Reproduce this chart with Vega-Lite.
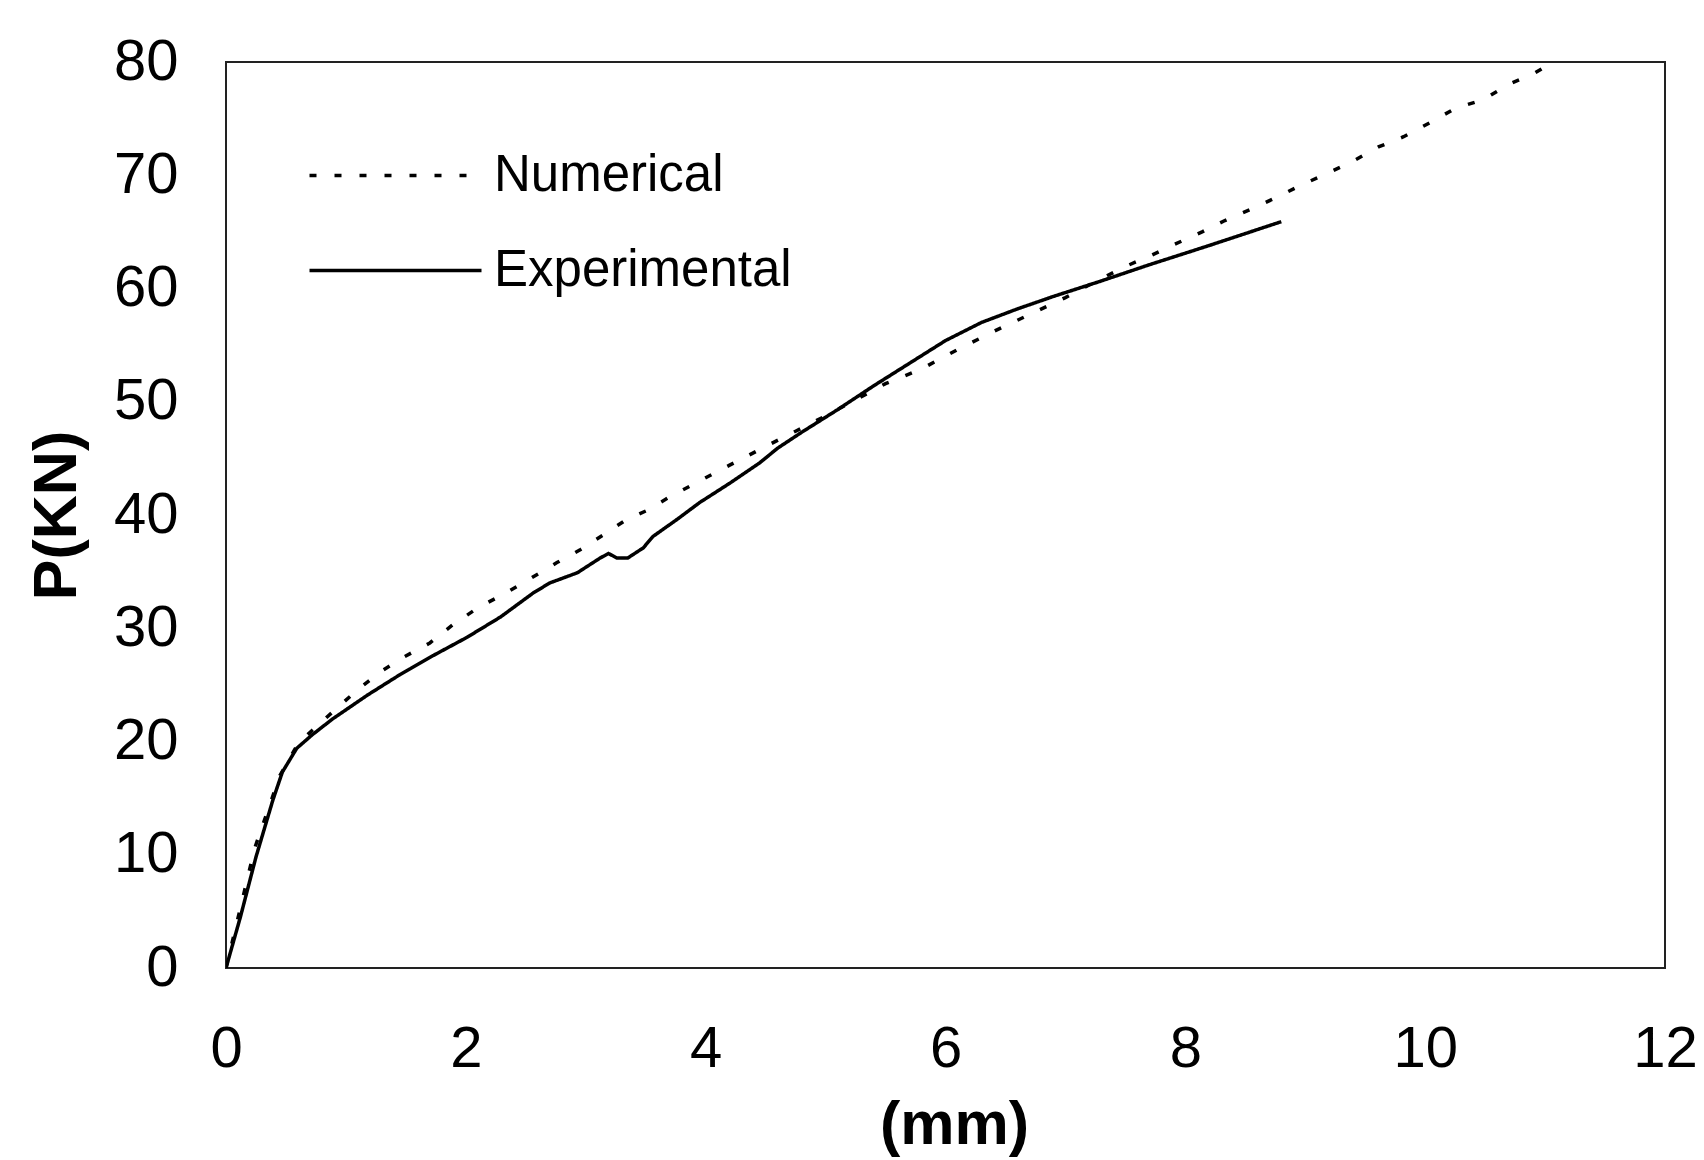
{
  "$schema": "https://vega.github.io/schema/vega-lite/v6.json",
  "width": 1439,
  "height": 906,
  "autosize": {"type": "none"},
  "padding": {"left": 226, "top": 62, "right": 39, "bottom": 192},
  "background": "white",
  "config": {
    "view": {"stroke": "#222", "strokeWidth": 2},
    "axis": {"grid": false, "ticks": false, "domain": false}
  },
  "data": {
    "values": [
      {"series": "Numerical", "d": 0, "p": 0},
      {"series": "Numerical", "d": 0.24, "p": 10.6},
      {"series": "Numerical", "d": 0.45, "p": 17.0},
      {"series": "Numerical", "d": 0.6, "p": 19.8},
      {"series": "Numerical", "d": 0.72, "p": 21.0},
      {"series": "Numerical", "d": 0.91, "p": 22.8},
      {"series": "Numerical", "d": 1.09, "p": 24.5},
      {"series": "Numerical", "d": 1.28, "p": 26.1},
      {"series": "Numerical", "d": 1.49, "p": 27.5},
      {"series": "Numerical", "d": 1.7, "p": 28.7},
      {"series": "Numerical", "d": 1.89, "p": 30.3},
      {"series": "Numerical", "d": 2.1, "p": 31.8},
      {"series": "Numerical", "d": 2.33, "p": 33.1},
      {"series": "Numerical", "d": 2.54, "p": 34.4},
      {"series": "Numerical", "d": 2.76, "p": 35.8},
      {"series": "Numerical", "d": 2.95, "p": 36.9},
      {"series": "Numerical", "d": 3.14, "p": 38.2},
      {"series": "Numerical", "d": 3.34, "p": 39.6},
      {"series": "Numerical", "d": 3.51, "p": 40.4},
      {"series": "Numerical", "d": 3.7, "p": 41.6},
      {"series": "Numerical", "d": 3.93, "p": 42.9},
      {"series": "Numerical", "d": 4.2, "p": 44.4},
      {"series": "Numerical", "d": 4.49, "p": 46.0},
      {"series": "Numerical", "d": 4.75, "p": 47.4},
      {"series": "Numerical", "d": 4.99, "p": 48.7},
      {"series": "Numerical", "d": 5.22, "p": 50.0},
      {"series": "Numerical", "d": 5.5, "p": 51.6},
      {"series": "Numerical", "d": 5.8, "p": 52.9},
      {"series": "Numerical", "d": 6.1, "p": 54.6},
      {"series": "Numerical", "d": 6.4, "p": 56.2},
      {"series": "Numerical", "d": 6.7, "p": 57.7},
      {"series": "Numerical", "d": 7.0, "p": 59.2},
      {"series": "Numerical", "d": 7.25, "p": 60.6},
      {"series": "Numerical", "d": 7.49, "p": 61.9},
      {"series": "Numerical", "d": 7.71, "p": 62.9},
      {"series": "Numerical", "d": 7.91, "p": 63.9},
      {"series": "Numerical", "d": 8.14, "p": 65.0},
      {"series": "Numerical", "d": 8.33, "p": 66.0},
      {"series": "Numerical", "d": 8.57, "p": 67.1},
      {"series": "Numerical", "d": 8.77, "p": 68.1},
      {"series": "Numerical", "d": 8.96, "p": 69.1},
      {"series": "Numerical", "d": 9.19, "p": 70.2},
      {"series": "Numerical", "d": 9.39, "p": 71.2},
      {"series": "Numerical", "d": 9.61, "p": 72.5},
      {"series": "Numerical", "d": 9.82, "p": 73.4},
      {"series": "Numerical", "d": 10.05, "p": 74.7},
      {"series": "Numerical", "d": 10.25, "p": 75.9},
      {"series": "Numerical", "d": 10.49, "p": 76.7},
      {"series": "Numerical", "d": 10.69, "p": 78.0},
      {"series": "Numerical", "d": 10.91, "p": 79.0},
      {"series": "Numerical", "d": 11.07, "p": 80.0},
      {"series": "Experimental", "d": 0, "p": 0},
      {"series": "Experimental", "d": 0.12, "p": 4.5},
      {"series": "Experimental", "d": 0.25, "p": 9.8},
      {"series": "Experimental", "d": 0.39, "p": 14.8},
      {"series": "Experimental", "d": 0.47, "p": 17.3},
      {"series": "Experimental", "d": 0.59, "p": 19.4},
      {"series": "Experimental", "d": 0.72, "p": 20.6},
      {"series": "Experimental", "d": 0.89, "p": 22.0},
      {"series": "Experimental", "d": 1.18, "p": 24.1},
      {"series": "Experimental", "d": 1.45, "p": 25.9},
      {"series": "Experimental", "d": 1.73, "p": 27.6},
      {"series": "Experimental", "d": 2.01, "p": 29.2},
      {"series": "Experimental", "d": 2.29, "p": 31.0},
      {"series": "Experimental", "d": 2.56, "p": 33.1},
      {"series": "Experimental", "d": 2.7, "p": 34.0},
      {"series": "Experimental", "d": 2.93, "p": 34.9},
      {"series": "Experimental", "d": 3.12, "p": 36.2},
      {"series": "Experimental", "d": 3.19, "p": 36.6},
      {"series": "Experimental", "d": 3.26, "p": 36.2},
      {"series": "Experimental", "d": 3.35, "p": 36.2},
      {"series": "Experimental", "d": 3.48, "p": 37.1},
      {"series": "Experimental", "d": 3.56, "p": 38.1},
      {"series": "Experimental", "d": 3.76, "p": 39.6},
      {"series": "Experimental", "d": 3.95, "p": 41.1},
      {"series": "Experimental", "d": 4.2, "p": 42.8},
      {"series": "Experimental", "d": 4.45, "p": 44.6},
      {"series": "Experimental", "d": 4.6, "p": 45.9},
      {"series": "Experimental", "d": 4.8, "p": 47.3},
      {"series": "Experimental", "d": 5.1, "p": 49.3},
      {"series": "Experimental", "d": 5.4, "p": 51.4},
      {"series": "Experimental", "d": 5.7, "p": 53.4},
      {"series": "Experimental", "d": 6.0, "p": 55.4},
      {"series": "Experimental", "d": 6.3, "p": 57.0},
      {"series": "Experimental", "d": 6.6, "p": 58.2},
      {"series": "Experimental", "d": 6.9, "p": 59.3},
      {"series": "Experimental", "d": 7.28, "p": 60.6},
      {"series": "Experimental", "d": 7.7, "p": 62.1},
      {"series": "Experimental", "d": 8.2, "p": 63.8},
      {"series": "Experimental", "d": 8.8, "p": 65.9}
    ]
  },
  "mark": {"type": "line", "strokeWidth": 3.5, "color": "black", "clip": true},
  "encoding": {
    "x": {
      "field": "d",
      "type": "quantitative",
      "scale": {"domain": [0, 12], "nice": false, "zero": true},
      "axis": {
        "title": "(mm)",
        "values": [0, 2, 4, 6, 8, 10, 12],
        "labelFont": "Liberation Sans",
        "labelFontSize": 58,
        "labelColor": "black",
        "labelPadding": 52,
        "labelFlush": false,
        "labelOverlap": false,
        "titleFont": "Liberation Sans",
        "titleFontWeight": "bold",
        "titleFontSize": 61,
        "titleColor": "black",
        "titleBaseline": "alphabetic",
        "titleX": 728,
        "titleY": 175
      }
    },
    "y": {
      "field": "p",
      "type": "quantitative",
      "scale": {"domain": [0, 80], "nice": false},
      "axis": {
        "title": "P(KN)",
        "values": [0, 10, 20, 30, 40, 50, 60, 70, 80],
        "labelFont": "Liberation Sans",
        "labelFontSize": 58,
        "labelColor": "black",
        "labelPadding": 48,
        "labelFlush": false,
        "labelOverlap": false,
        "titleFont": "Liberation Sans",
        "titleFontWeight": "bold",
        "titleFontSize": 61,
        "titleColor": "black",
        "titleAngle": -90,
        "titleAlign": "center",
        "titleBaseline": "alphabetic",
        "titleX": -151,
        "titleY": 453
      }
    },
    "detail": {"field": "series"},
    "strokeDash": {
      "field": "series",
      "type": "nominal",
      "sort": ["Numerical", "Experimental"],
      "scale": {"domain": ["Numerical", "Experimental"], "range": [[7, 18], [1, 0]]},
      "legend": {
        "title": null,
        "orient": "none",
        "legendX": 144,
        "legendY": 88,
        "padding": 0,
        "symbolType": "M-4,0H4",
        "symbolSize": 1849,
        "symbolStrokeWidth": 3.5,
        "symbolStrokeColor": "black",
        "labelFont": "Liberation Sans",
        "labelFontSize": 51,
        "labelColor": "black",
        "labelOffset": 73,
        "labelLimit": 600,
        "rowPadding": 43
      }
    }
  }
}
